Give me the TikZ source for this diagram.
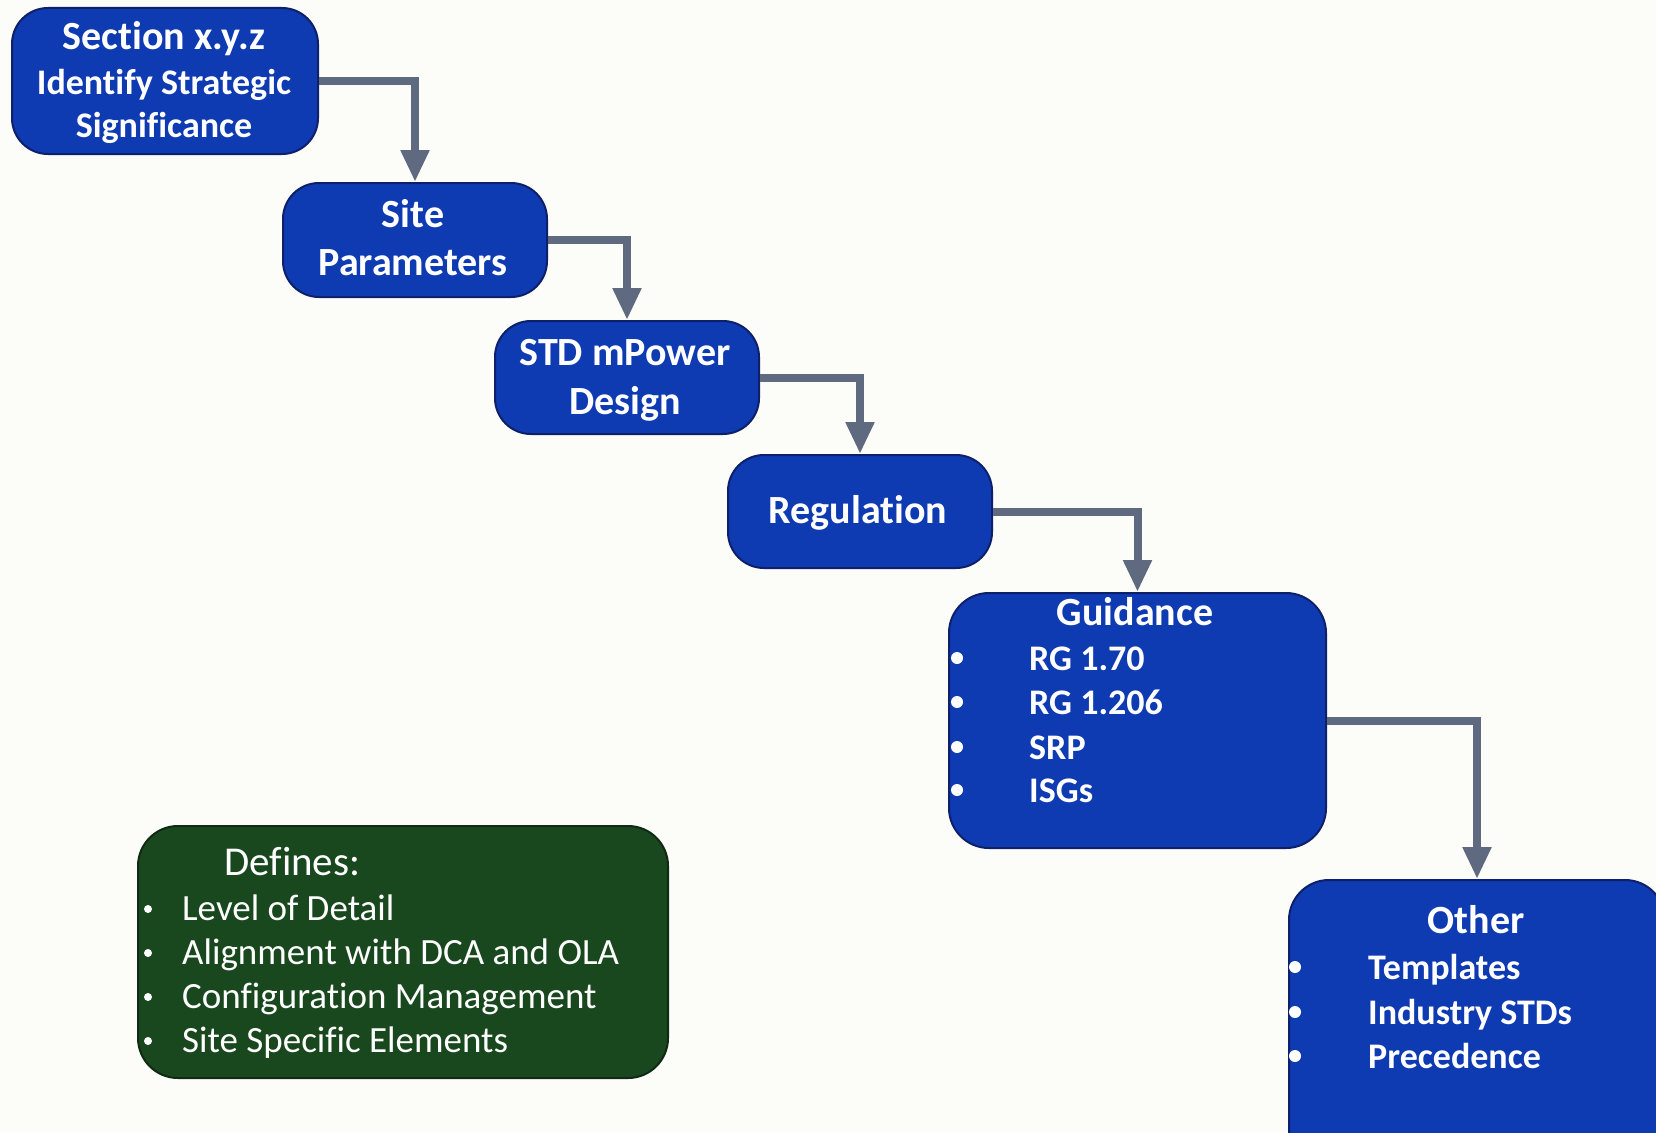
\documentclass[tikz,border=0pt]{standalone}
\usepackage{fontspec}
\setmainfont{Carlito}[Ligatures={NoCommon}]
\usetikzlibrary{arrows.meta}
\definecolor{boxblue}{RGB}{14,58,178}
\definecolor{boxedge}{RGB}{14,32,105}
\definecolor{boxgreen}{RGB}{26,72,30}
\definecolor{greenedge}{RGB}{16,42,20}
\definecolor{connc}{RGB}{95,106,128}
\definecolor{bgc}{RGB}{252,252,249}
\begin{document}
\begin{tikzpicture}[x=1pt,y=-1pt,
  bbox/.style={draw=boxedge, line width=2pt, fill=boxblue, rounded corners=36pt, inner sep=0pt, anchor=north west},
  gbox/.style={bbox, draw=greenedge, fill=boxgreen},
  ttl/.style={text=white, font=\bfseries\fontsize{40}{48}\selectfont, anchor=base, yshift=-13pt, inner sep=0pt},
  sub/.style={text=white, font=\bfseries\fontsize{36}{43}\selectfont, anchor=base, yshift=-12pt, inner sep=0pt},
  item/.style={sub, anchor=base west},
  gttl/.style={text=white, font=\fontsize{41}{48}\selectfont, anchor=base west, yshift=-13pt, inner sep=0pt},
  gitem/.style={text=white, font=\fontsize{37}{43}\selectfont, anchor=base west, yshift=-12pt, inner sep=0pt},
  bul/.style={circle, fill=white, inner sep=0pt, minimum size=12pt},
  conn/.style={draw=connc, line width=8pt, -{Triangle[width=27pt,length=32pt]}}
]
\useasboundingbox (0,0) rectangle (1656,1132);
\fill[bgc] (0,0) rectangle (1656,1132);
\clip (0,0) rectangle (1656,1132);

% boxes
\node[bbox, minimum width=306pt, minimum height=146pt] (b1) at (11,7) {};
\node[bbox, minimum width=264pt, minimum height=114pt] (b2) at (282,182) {};
\node[bbox, minimum width=264pt, minimum height=113pt] (b3) at (494,320) {};
\node[bbox, minimum width=264pt, minimum height=113pt] (b4) at (727,454) {};
\node[bbox, minimum width=377pt, minimum height=255pt, rounded corners=40pt] (b5) at (948,592) {};
\node[bbox, minimum width=376pt, minimum height=290pt, rounded corners=40pt] (b6) at (1288,879) {};
\node[gbox, minimum width=530pt, minimum height=252pt, rounded corners=40pt] (b7) at (137,825) {};

% connectors
\draw[conn] (b1.east) -| (b2.north);
\draw[conn] (b2.east) -| (b3.north);
\draw[conn] (b3.east) -| (b4.north);
\draw[conn] (b4.east) -| (b5.north);
\draw[conn] (b5.east) -| (b6.north);

% box 1 text
\node[ttl] (t1a) at (164,36) {Section x.y.z};
\node[sub] (t1b) at (164,82) {Identify Strategic};
\node[sub] (t1c) at (164,125) {Significance};

% box 2 text
\node[ttl] (t2a) at (413,214) {Site};
\node[ttl] (t2b) at (413,262) {Parameters};

% box 3 text
\node[ttl] (t3a) at (625,352) {STD mPower};
\node[ttl] (t3b) at (625,401) {Design};

% box 4 text
\node[ttl] (t4a) at (858,510) {Regulation};

% box 5 text
\node[ttl] (t5) at (1135,612) {Guidance};
\node[bul] (u51) at (957,658) {};
\node[bul] (u52) at (957,702) {};
\node[bul] (u53) at (957,747) {};
\node[bul] (u54) at (957,790) {};
\node[item] (i51) at (1029,658) {RG 1.70};
\node[item] (i52) at (1029,702) {RG 1.206};
\node[item] (i53) at (1029,747) {SRP};
\node[item] (i54) at (1029,790) {ISGs};

% box 6 text
\node[ttl] (t6) at (1476,920) {Other};
\node[bul] (u61) at (1295,967) {};
\node[bul] (u62) at (1295,1012) {};
\node[bul] (u63) at (1295,1056) {};
\node[item] (i61) at (1368,967) {Templates};
\node[item] (i62) at (1368,1012) {Industry STDs};
\node[item] (i63) at (1368,1056) {Precedence};

% box 7 text
\node[gttl] (t7) at (224,862) {Defines:};
\node[bul, minimum size=8pt] (u71) at (148,909) {};
\node[bul, minimum size=8pt] (u72) at (148,953) {};
\node[bul, minimum size=8pt] (u73) at (148,997) {};
\node[bul, minimum size=8pt] (u74) at (148,1041) {};
\node[gitem] (i71) at (182,908) {Level of Detail};
\node[gitem] (i72) at (182,952) {Alignment with DCA and OLA};
\node[gitem] (i73) at (182,996) {Configuration Management};
\node[gitem] (i74) at (182,1040) {Site Specific Elements};
\end{tikzpicture}
\end{document}
